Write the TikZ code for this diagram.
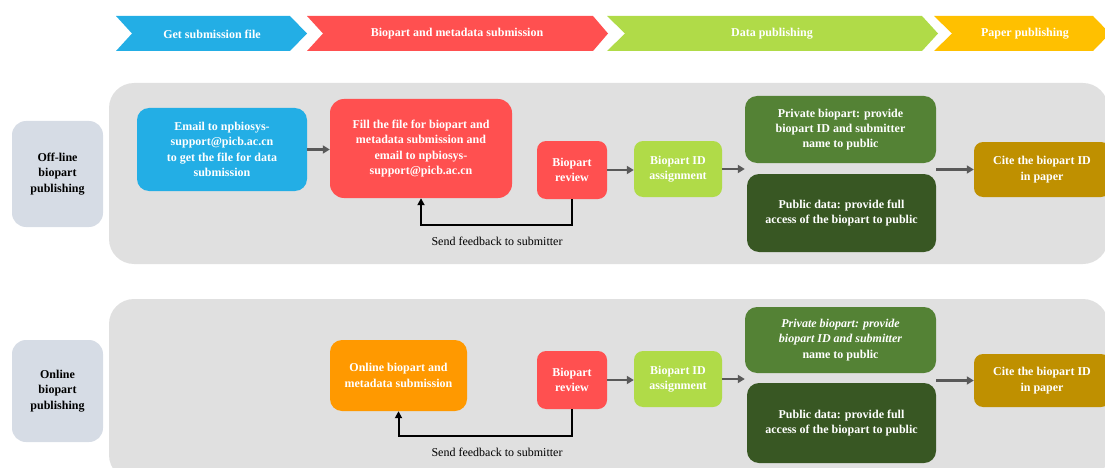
\documentclass[tikz,border=0pt]{standalone}
\usepackage{fontspec}
\setmainfont{Liberation Serif}
\usetikzlibrary{arrows.meta}
\definecolor{cblue}{HTML}{23AEE5}
\definecolor{cred}{HTML}{FF5050}
\definecolor{clgreen}{HTML}{B0DB48}
\definecolor{cyellow}{HTML}{FFC000}
\definecolor{cgreen}{HTML}{548235}
\definecolor{cdgreen}{HTML}{385723}
\definecolor{ccite}{HTML}{BF9000}
\definecolor{corange}{HTML}{FF9900}
\definecolor{cpanel}{HTML}{E0E0E0}
\definecolor{clabel}{HTML}{D6DCE5}
\definecolor{carrow}{HTML}{595959}
\begin{document}
\begin{tikzpicture}[x=1pt,y=-1pt,
  txt/.style={font=\fontsize{12}{15.3}\selectfont\bfseries, align=center},
  box/.style={txt, rounded corners=12pt, text=white, inner sep=0pt},
  sidebox/.style={txt, rounded corners=14pt, fill=clabel, text=black, inner sep=0pt, minimum width=91pt},
  panel/.style={fill=cpanel, rounded corners=25pt, inner sep=0pt, minimum width=999pt, minimum height=181pt},
  chevtext/.style={txt, text=white},
  arr/.style={draw=carrow, line width=2.5pt, -{Triangle[length=7pt,width=8pt]}},
  fb/.style={draw=black, line width=2pt, -{Triangle[length=7pt,width=7pt]}},
  fblabel/.style={font=\fontsize{12}{14}\selectfont, text=black}
]
\useasboundingbox (0,0) rectangle (1105,468);
\clip (0,0) rectangle (1105,468);

% chevrons
\fill[cblue] (116,16) -- (290,16) -- (307,33.5) -- (290,51) -- (116,51) -- (132,33.5) -- cycle;
\fill[cred] (307,16) -- (593,16) -- (608,33.5) -- (593,51) -- (307,51) -- (323,33.5) -- cycle;
\fill[clgreen] (607,16) -- (922,16) -- (938,33.5) -- (922,51) -- (607,51) -- (625,33.5) -- cycle;
\fill[cyellow] (934,16) -- (1093,16) -- (1110,33.5) -- (1093,51) -- (934,51) -- (952,33.5) -- cycle;
\node[chevtext] (h1) at (212,34) {Get submission file};
\node[chevtext] (h2) at (457,34) {Biopart and metadata submission};
\node[chevtext] (h3) at (772,34) {Data publishing};
\node[chevtext] (h4) at (1025,34) {Paper publishing};

% panels
\node[panel] (p1) at (608.5,173.5) {};
\node[panel] (p2) at (608.5,389.5) {};

% upper row
\node[sidebox, minimum height=106pt] (off) at (57.5,174) {Off-line\\biopart\\publishing};
\node[box, fill=cblue, minimum width=170pt, minimum height=83pt] (email) at (222,149.5)
  {Email to npbiosys-\\support@picb.ac.cn\\to get the file for data\\submission};
\node[box, fill=cred, rounded corners=14pt, minimum width=182pt, minimum height=99pt] (fill) at (421,148.5)
  {Fill the file for biopart and\\metadata submission and\\email to npbiosys-\\support@picb.ac.cn};
\node[box, fill=cred, rounded corners=9pt, minimum width=70pt, minimum height=58pt] (rev1) at (572,170) {Biopart\\review};
\node[box, fill=clgreen, rounded corners=9pt, minimum width=88pt, minimum height=56pt] (id1) at (678,169) {Biopart ID\\assignment};
\node[box, fill=cgreen, minimum width=191pt, minimum height=67pt] (priv1) at (840.5,129.5)
  {Private biopart: provide\\biopart ID and submitter\\name to public};
\node[box, fill=cdgreen, minimum width=189pt, minimum height=78pt] (pub1) at (841.5,213)
  {Public data: provide full\\access of the biopart to public};
\node[box, fill=ccite, rounded corners=9pt, minimum width=136pt, minimum height=55pt] (cite1) at (1042,169.5)
  {Cite the biopart ID\\in paper};

\draw[arr] (email.east) -- (email.east -| fill.west);
\draw[arr] (rev1.east) -- (rev1.east -| id1.west);
\draw[arr] (id1.east) -- (id1.east -| priv1.west);
\draw[arr] (cite1.west -| pub1.east) -- (cite1.west);
\draw[fb] (rev1.south) -- ++(0,26) coordinate (fbc1) -| (fill.south);
\node[fblabel] (fbl1) at (497,241) {Send feedback to submitter};

% lower row
\node[sidebox, minimum height=102pt] (on) at (57.5,391) {Online\\biopart\\publishing};
\node[box, fill=corange, minimum width=137pt, minimum height=71pt] (online) at (398.5,375.5)
  {Online biopart and\\metadata submission};
\node[box, fill=cred, rounded corners=9pt, minimum width=70pt, minimum height=58pt] (rev2) at (572,380) {Biopart\\review};
\node[box, fill=clgreen, rounded corners=9pt, minimum width=88pt, minimum height=56pt] (id2) at (678,379) {Biopart ID\\assignment};
\node[box, fill=cgreen, minimum width=191pt, minimum height=66pt] (priv2) at (840.5,340)
  {\itshape Private biopart: provide\\\itshape biopart ID and submitter\\name to public};
\node[box, fill=cdgreen, minimum width=189pt, minimum height=80pt] (pub2) at (841.5,423)
  {Public data: provide full\\access of the biopart to public};
\node[box, fill=ccite, rounded corners=9pt, minimum width=136pt, minimum height=53pt] (cite2) at (1042,380.5)
  {Cite the biopart ID\\in paper};

\draw[arr] (rev2.east) -- (rev2.east -| id2.west);
\draw[arr] (id2.east) -- (id2.east -| priv2.west);
\draw[arr] (cite2.west -| pub2.east) -- (cite2.west);
\draw[fb] (rev2.south) -- ++(0,27) coordinate (fbc2) -| (online.south);
\node[fblabel] (fbl2) at (497,452) {Send feedback to submitter};
\end{tikzpicture}
\end{document}
